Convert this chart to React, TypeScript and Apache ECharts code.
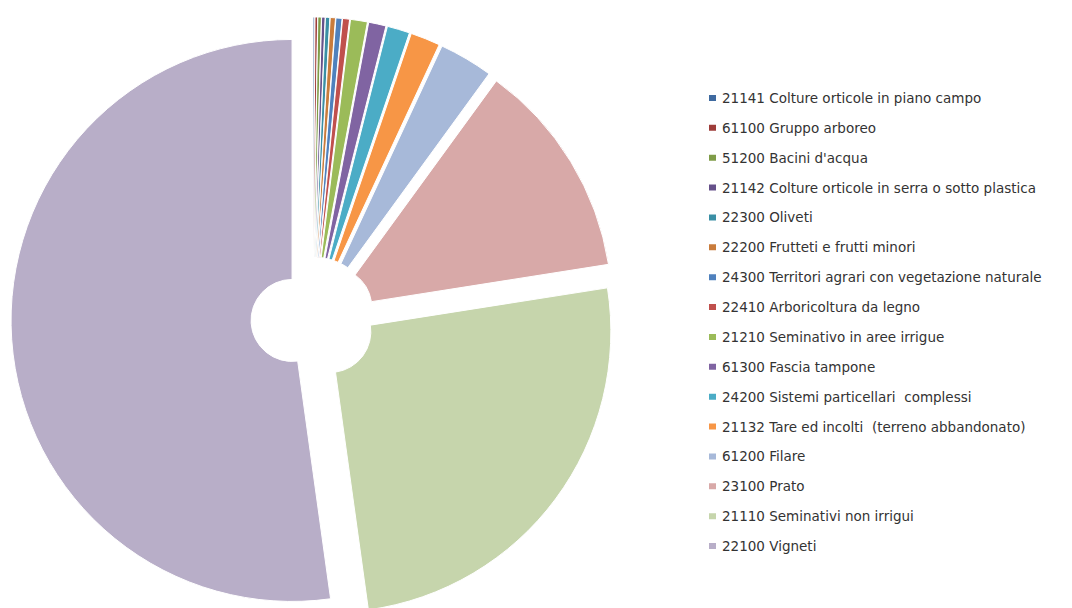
import React, { useEffect, useRef } from "react";
import * as echarts from "echarts";

const categories = [
  "21141 Colture orticole in piano campo",
  "61100 Gruppo arboreo",
  "51200 Bacini d'acqua",
  "21142 Colture orticole in serra o sotto plastica",
  "22300 Oliveti",
  "22200 Frutteti e frutti minori",
  "24300 Territori agrari con vegetazione naturale",
  "22410 Arboricoltura da legno",
  "21210 Seminativo in aree irrigue",
  "61300 Fascia tampone",
  "24200 Sistemi particellari  complessi",
  "21132 Tare ed incolti  (terreno abbandonato)",
  "61200 Filare",
  "23100 Prato",
  "21110 Seminativi non irrigui",
  "22100 Vigneti",
];

const values = [0.1, 0.15, 0.2, 0.2, 0.25, 0.3, 0.35, 0.4, 0.97, 1.0, 1.3, 1.7, 3.1, 12.5, 25.3, 52.2];

const colors = [
  "#3f6aa0",
  "#9e3d3a",
  "#7f9c48",
  "#66518a",
  "#3a8fa5",
  "#c97c3c",
  "#4f81bd",
  "#c0504d",
  "#9bbb59",
  "#8064a2",
  "#4bacc6",
  "#f79646",
  "#a7b9d9",
  "#d8a9a8",
  "#c6d5ac",
  "#b8aec8",
];

export default function App() {
  const ref = useRef<HTMLDivElement>(null);
  useEffect(() => {
    if (!ref.current) return;
    const chart = echarts.init(ref.current, undefined, { renderer: "svg" });
    const data = categories.map((name, i) => ({
      name,
      value: values[i],
      selected: true,
      itemStyle: { color: colors[i] },
    }));
    chart.setOption({
      animation: false,
      backgroundColor: "#ffffff",
      legend: {
        orient: "vertical",
        left: 702,
        top: 86,
        icon: "rect",
        itemWidth: 9,
        itemHeight: 8,
        itemGap: 15.87,
        selectedMode: false,
        textStyle: {
          fontFamily: "DejaVu Sans",
          fontSize: 13.5,
          color: "#333333",
          lineHeight: 14,
        },
        data: categories,
      },
      series: [
        {
          type: "pie",
          center: [313, 319],
          radius: [41, 281],
          startAngle: 90,
          clockwise: true,
          selectedMode: "multiple",
          selectedOffset: 21,
          label: { show: false },
          labelLine: { show: false },
          emphasis: { disabled: true },
          itemStyle: { borderColor: "#ffffff", borderWidth: 1 },
          silent: true,
          data,
        },
      ],
    });
    return () => chart.dispose();
  }, []);
  return (
    <div
      ref={ref}
      style={{ position: "fixed", left: 0, top: 0, width: 1072, height: 608 }}
    />
  );
}
